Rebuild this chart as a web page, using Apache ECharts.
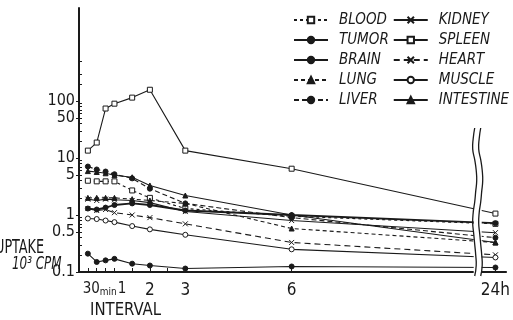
<!DOCTYPE html>
<html>
<head>
<meta charset="utf-8">
<script src="https://cdn.jsdelivr.net/npm/echarts@6/dist/echarts.min.js"></script>
<style>
  html, body { margin: 0; padding: 0; background: #fff; }
  #main { width: 513px; height: 320px; }
</style>
</head>
<body>
<div id="main"></div>
<script>
// time after injection (hours), 24h sits behind the axis break
const hours = [0.25, 0.5, 0.75, 1, 1.5, 2, 3, 6, 24]
const BREAK_POS = 11.75 // where 24h is drawn on the shortened axis

const blood     = [4.0, 3.9, 3.9, 3.9, 2.7, 2.0, 1.3, 0.95, 0.7]
const tumor     = [1.3, 1.25, 1.35, 1.5, 1.6, 1.5, 1.2, 1.0, 0.72]
const brain     = [0.21, 0.15, 0.16, 0.17, 0.14, 0.13, 0.115, 0.125, 0.12]
const lung      = [2.0, 2.0, 2.0, 2.0, 1.9, 1.8, 1.6, 0.58, 0.33]
const liver     = [7.1, 6.3, 5.8, 5.2, 4.4, 2.9, 1.6, 0.9, 0.4]
const kidney    = [1.9, 1.8, 1.9, 1.85, 1.8, 1.65, 1.15, 0.8, 0.49]
const spleen    = [13.5, 18.7, 74, 90, 115, 158, 13.5, 6.5, 1.06]
const heart     = [1.3, 1.2, 1.25, 1.1, 1.0, 0.9, 0.7, 0.33, 0.2]
const muscle    = [0.87, 0.85, 0.8, 0.75, 0.64, 0.56, 0.45, 0.25, 0.18]
const intestine = [5.9, 5.7, 5.4, 5.0, 4.6, 3.3, 2.2, 1.0, 0.33]

const xTickValues = [0.25, 0.5, 0.75, 1, 1.5, 2, 2.5, 3, 6, BREAK_POS]
// "30min" and "1" sit so close that they share one label
const xLabelValues = [0.72, 2, 3, 6, BREAK_POS]
const xLabelText = ['{n|30}{m|min}{n|1}', '2', '3', '6', '24h']
const yLabelValues = [0.1, 0.5, 1, 5, 10, 50, 100]
const yMinorTicks = [0.2, 0.3, 0.4, 0.5, 0.6, 0.7, 0.8, 0.9, 2, 3, 4, 5, 6, 7, 8, 9,
  20, 30, 40, 50, 60, 70, 80, 90, 200, 300, 500]

const FONT = '"Liberation Sans Narrow", "DejaVu Sans Condensed", "Liberation Sans", sans-serif'
const INK = '#1a1a1a'

const pos = h => (h === 24 ? BREAK_POS : h)
const pairs = vals => hours.map((h, i) => [pos(h), vals[i]])

const X_SYMBOL = 'path://M0,0L10,10M10,0L0,10'

// name, values, line type, symbol, filled marker
const organs = [
  ['BLOOD', blood, [3, 3], 'rect', false],
  ['TUMOR', tumor, 'solid', 'circle', true],
  ['BRAIN', brain, 'solid', 'circle', true],
  ['LUNG', lung, [4, 3], 'triangle', true],
  ['LIVER', liver, [5, 3], 'circle', true],
  ['KIDNEY', kidney, 'solid', X_SYMBOL, false],
  ['SPLEEN', spleen, 'solid', 'rect', false],
  ['HEART', heart, [6, 4], X_SYMBOL, false],
  ['MUSCLE', muscle, 'solid', 'circle', false],
  ['INTESTINE', intestine, 'solid', 'triangle', true]
]

const chart = echarts.init(document.getElementById('main'), null, {renderer: 'canvas'})

const series = organs.map(([name, vals, type, symbol, filled]) => ({
  name,
  type: 'line',
  data: pairs(vals),
  symbol,
  symbolSize: 5,
  showAllSymbol: true,
  animation: false,
  lineStyle: {color: INK, width: name === 'TUMOR' ? 1.8 : 1.1, type},
  itemStyle: {color: filled ? INK : '#fff', borderColor: INK, borderWidth: 1}
}))

let option = {
  animation: false,
  backgroundColor: '#fff',
  grid: {left: 79, top: 8, right: 0, bottom: 48},
  legend: {
    orient: 'vertical',
    left: 293,
    top: 12,
    height: 100,
    padding: 0,
    itemGap: 4,
    itemWidth: 34,
    itemHeight: 8,
    data: organs.map(o => o[0]),
    textStyle: {
      fontFamily: FONT, fontStyle: 'italic', fontSize: 15, lineHeight: 16,
      color: INK, width: 49, padding: [0, 0, 0, 6]
    }
  },
  xAxis: {
    type: 'value',
    min: 0,
    max: 12.05,
    splitLine: {show: false},
    axisLine: {lineStyle: {color: INK, width: 2}},
    axisTick: {inside: true, length: 4, customValues: xTickValues, lineStyle: {color: INK}},
    axisLabel: {
      customValues: xLabelValues,
      hideOverlap: false,
      formatter: v => xLabelText[xLabelValues.indexOf(v)] || '',
      fontFamily: FONT, fontSize: 17, color: INK, margin: 10,
      rich: {
        n: {fontFamily: FONT, fontSize: 15, color: INK, verticalAlign: 'bottom'},
        m: {fontFamily: FONT, fontSize: 10, color: INK, verticalAlign: 'bottom', padding: [0, 1, 0, 0]}
      }
    }
  },
  yAxis: [
    {
      type: 'log',
      min: 0.1,
      max: 4300,
      splitLine: {show: false},
      axisLine: {lineStyle: {color: INK, width: 2}},
      axisTick: {inside: false, length: 3, customValues: yLabelValues, lineStyle: {color: INK}},
      axisLabel: {
        customValues: yLabelValues,
        hideOverlap: false,
        formatter: v => String(v),
        fontFamily: FONT, fontSize: 16, color: INK, margin: 4
      }
    },
    {
      type: 'log',
      min: 0.1,
      max: 4300,
      position: 'left',
      splitLine: {show: false},
      axisLine: {show: false},
      axisTick: {inside: true, length: 3, customValues: yMinorTicks, lineStyle: {color: INK}},
      axisLabel: {show: false}
    }
  ],
  series
}

chart.setOption(option)

// axis break: white gap with two wavy lines, placed from the axis scale
const bx = chart.convertToPixel({xAxisIndex: 0}, 11.25)
const yBottom = chart.convertToPixel({yAxisIndex: 0}, 0.1)
const yTop = 128
const wave = x0 => {
  const dx = [0, -1.5, -2, 0, 1.5, 2, 1, 0, -1.5, -2, -1, 0, 1, 1.5, 0]
  return dx.map((d, i) => [x0 + d, yTop + (yBottom + 4 - yTop) * i / (dx.length - 1)])
}

chart.setOption({
  graphic: [
    {
      id: 'breakGap', type: 'rect', z: 100,
      shape: {x: bx - 4, y: yTop, width: 8, height: yBottom + 4 - yTop},
      style: {fill: '#fff'}
    },
    {id: 'breakL', type: 'polyline', z: 101, shape: {points: wave(bx - 3), smooth: 0.5}, style: {stroke: INK, lineWidth: 1.3, fill: null}},
    {id: 'breakR', type: 'polyline', z: 101, shape: {points: wave(bx + 3), smooth: 0.5}, style: {stroke: INK, lineWidth: 1.3, fill: null}},
    {
      id: 'uptake', type: 'text', x: -5, y: 239, scaleX: 0.75,
      style: {text: 'UPTAKE', fontSize: 19, fontFamily: FONT, fill: INK}
    },
    {
      id: 'cpm', type: 'text', x: 12, y: 256, scaleX: 0.78,
      style: {text: '10³ CPM', fontSize: 17, fontStyle: 'italic', fontFamily: FONT, fill: INK}
    },
    {
      id: 'interval', type: 'text', x: 90, y: 301, scaleX: 0.92,
      style: {text: 'INTERVAL', fontSize: 18, fontFamily: FONT, fill: INK}
    }
  ]
})
</script>
</body>
</html>
